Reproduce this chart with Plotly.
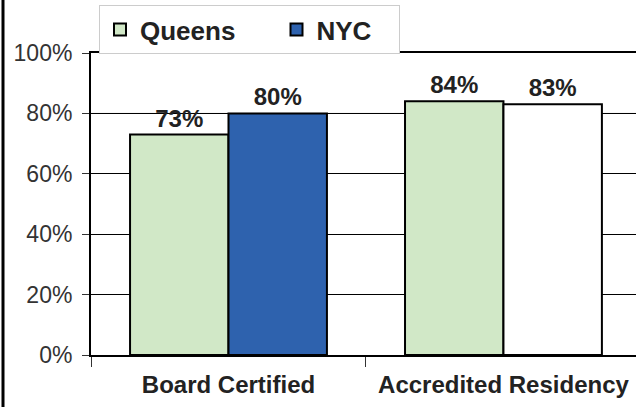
import plotly.graph_objects as go

categories = ["Board Certified", "Accredited Residency"]
queens = [0.73, 0.84]
nyc = [0.80, 0.83]
nyc_colors = ["#2E62AE", "#FFFFFF"]
queens_color = "#D1E8C7"
y_ticks = [0, 0.2, 0.4, 0.6, 0.8, 1.0]
y_tick_labels = ["0%", "20%", "40%", "60%", "80%", "100%"]
series_names = ["Queens", "NYC"]

FONT = "Liberation Sans, Arial"
label_font = dict(family=FONT, size=24, color="#222", weight="bold")
NB = "\u00a0"

fig = go.Figure()
fig.add_trace(go.Bar(
    name=series_names[0] + NB * 5, x=categories, y=queens,
    marker=dict(color=queens_color, line=dict(color="black", width=2)),
    text=[f"{v:.0%}" for v in queens], textposition="outside",
    textfont=label_font, cliponaxis=False,
))
fig.add_trace(go.Bar(
    name=series_names[1] + NB * 3, x=categories, y=nyc,
    marker=dict(color=nyc_colors, line=dict(color="black", width=2)),
    text=[f"{v:.0%}" for v in nyc], textposition="outside",
    textfont=label_font, cliponaxis=False,
))

fig.update_layout(
    width=636, height=407,
    margin=dict(l=91, r=0, t=53, b=52, autoexpand=False),
    paper_bgcolor="white", plot_bgcolor="white",
    barmode="group", bargap=0.284, bargroupgap=0,
    font=dict(family=FONT, color="#333"),
    showlegend=True,
    legend=dict(
        orientation="h", x=8/545, y=(355-5)/302, xanchor="left", yanchor="top",
        bgcolor="white", bordercolor="#cccccc", borderwidth=1,
        font=dict(family=FONT, size=26, color="#222", weight="bold"),
        itemwidth=30, tracegroupgap=0,
    ),
    xaxis=dict(
        range=[-0.5, 1.482], showline=True, linecolor="black", linewidth=2,
        mirror=True, ticks="outside", tickson="boundaries", ticklen=10,
        tickcolor="#333", tickwidth=1,
        tickfont=dict(family=FONT, size=24, color="#222", weight="bold"),
        ticklabelstandoff=7, showgrid=False,
    ),
    yaxis=dict(
        range=[0, 1], tickvals=y_ticks, ticktext=y_tick_labels,
        showline=True, linecolor="black", linewidth=2,
        ticks="outside", ticklen=7, tickcolor="#333", tickwidth=1,
        tickfont=dict(family=FONT, size=23, color="#333"),
        ticklabelstandoff=5,
        showgrid=True, gridcolor="black", gridwidth=1, zeroline=False,
    ),
    shapes=[
        dict(type="line", xref="paper", yref="y", x0=0, x1=1, y0=0.8, y1=0.8,
             line=dict(color="#b0b0b0", width=1), layer="between"),
        dict(type="line", xref="paper", yref="paper", x0=-88/545, x1=-88/545,
             y0=-60/302, y1=60/302 + 1, line=dict(color="black", width=3)),
    ],
)

fig.write_html(
    "out.html",
    config={"displayModeBar": False},
    post_script="document.body.style.margin='0';document.body.style.overflow='hidden';",
)
